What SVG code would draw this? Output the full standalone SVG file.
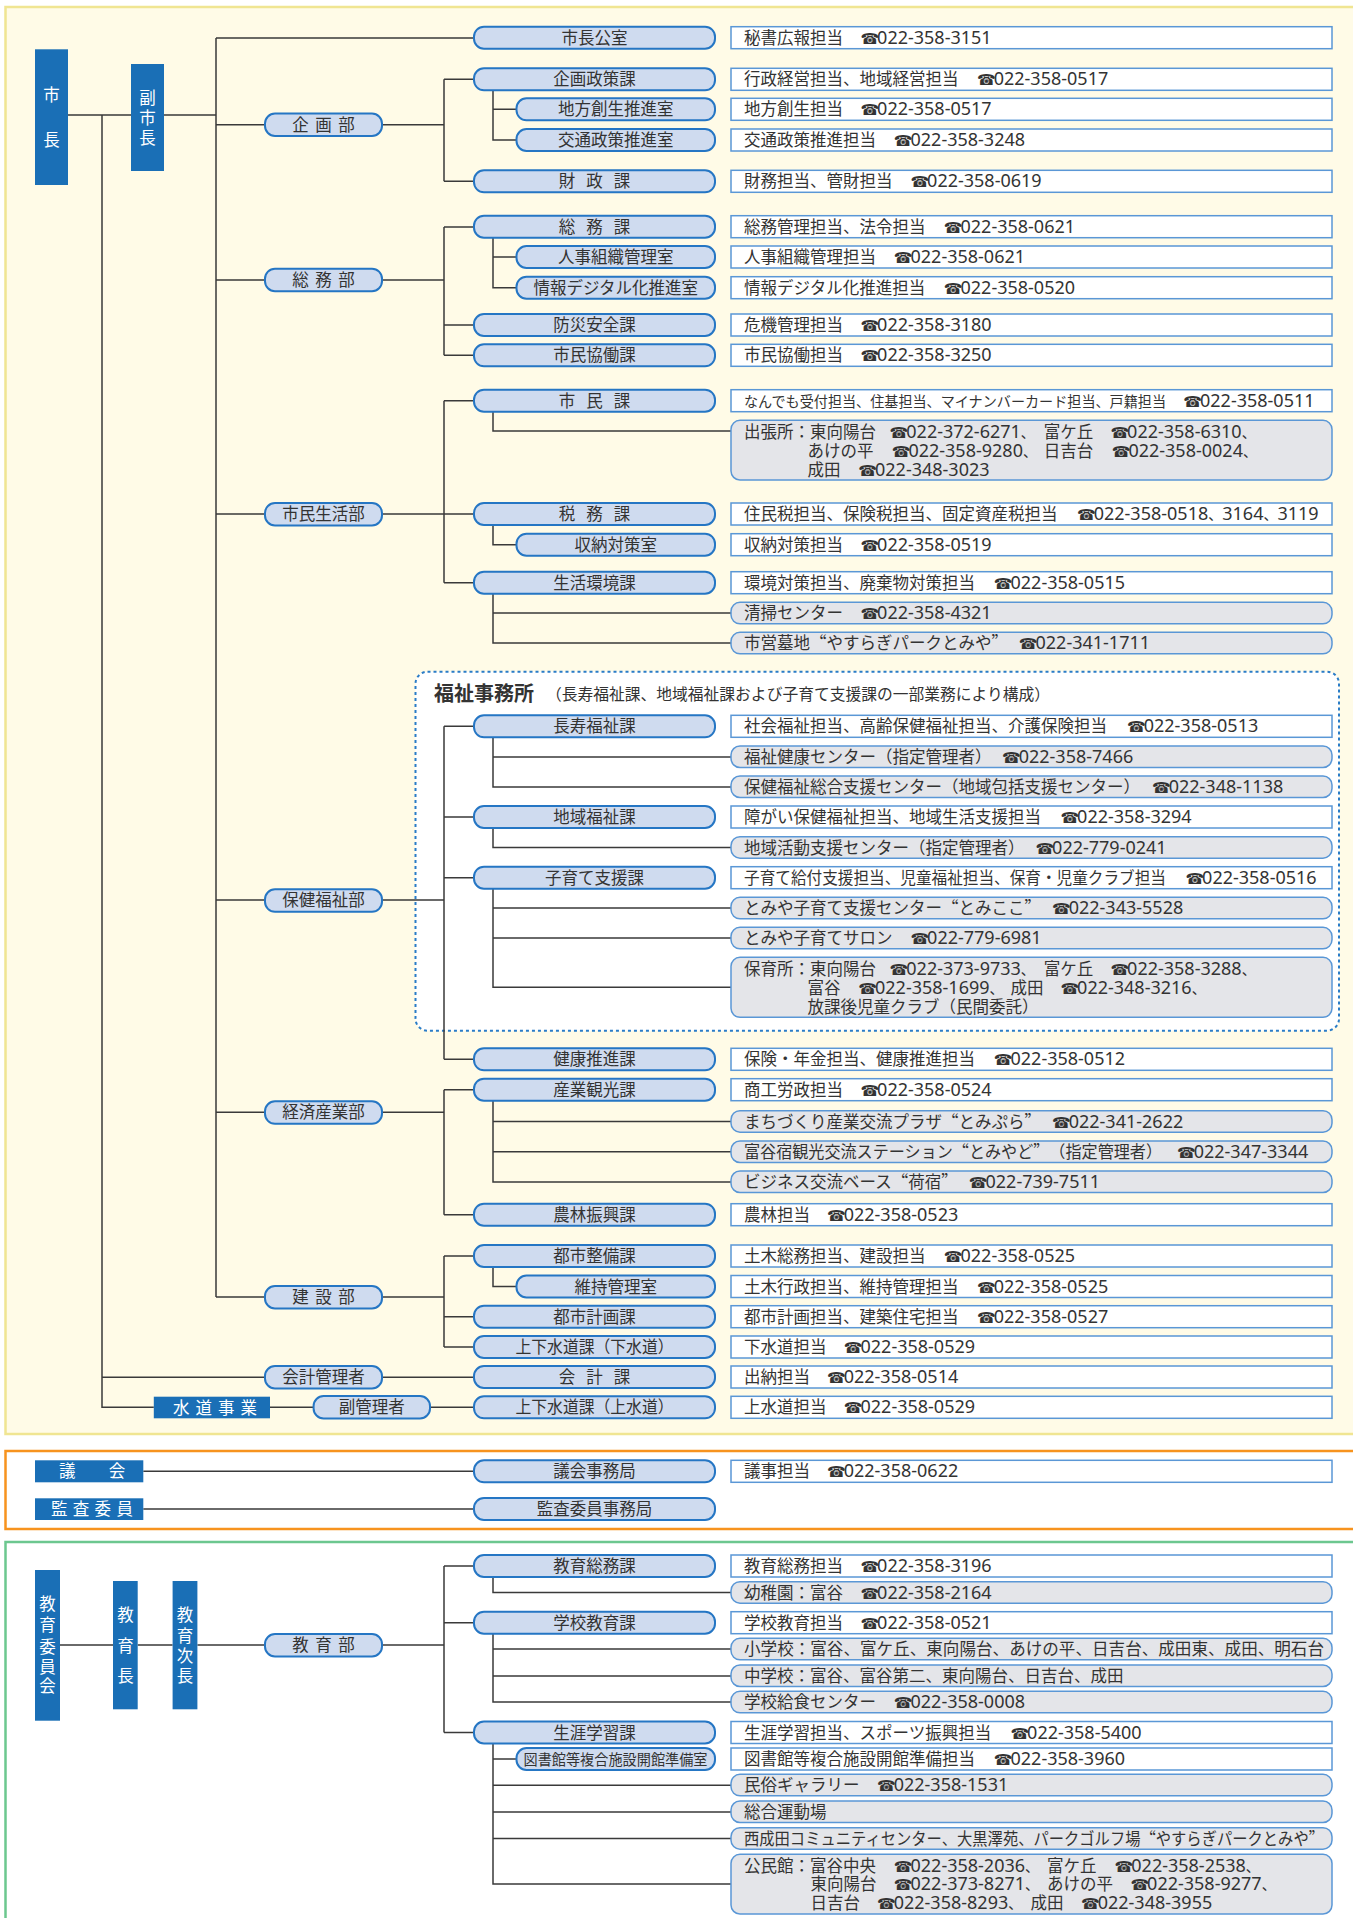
<svg xmlns="http://www.w3.org/2000/svg" width="1353" height="1918" viewBox="0 0 1353 1918">
<style>
.ln{stroke:#3a3a3a;stroke-width:1.5;fill:none}
.pill{fill:#cfdbef;stroke:#2576c4;stroke-width:2}
.info{fill:#fff;stroke:#5a97d6;stroke-width:1.5}
.gray{fill:#e4e5e9;stroke:#5a97d6;stroke-width:1.5}
.blk{fill:#1a6fb6}
.t{font-family:"Noto Sans CJK JP",sans-serif;font-size:16.5px;fill:#333}
.c{text-anchor:middle}
.w{fill:#fff}
.q{font-feature-settings:"fwid" 1}
.ph{font-family:"Noto Sans","Noto Sans CJK JP",sans-serif;font-size:18px;fill:#333}
.tel{font-family:"DejaVu Sans",sans-serif;font-size:15px}
.cm{font-family:"Noto Sans CJK JP",sans-serif;font-size:14px}
</style>
<g id="panels">
<rect x="5.5" y="7" width="1360" height="1427" fill="#fffbe7" stroke="#f0e592" stroke-width="2.5"/>
<rect x="5.5" y="1451" width="1360" height="78" fill="#fff" stroke="#f7931e" stroke-width="2.5"/>
<rect x="5.5" y="1542" width="1360" height="390" fill="#fff" stroke="#6cc78f" stroke-width="2.5"/>
<rect id="fukushi-box" x="415.5" y="671.7" width="923.5" height="359" rx="12" fill="#fff" stroke="#2a7cc7" stroke-width="2" stroke-dasharray="3 3"/>
<text class="t" x="434" y="701" style="font-size:20px;font-weight:700">福祉事務所</text>
<text class="t" x="546" y="700" style="font-size:15.5px" textLength="504" lengthAdjust="spacingAndGlyphs">（長寿福祉課、地域福祉課および子育て支援課の一部業務により構成）</text>
</g>
<g id="connectors" class="ln">
<path d="M68,115H131M164,115H216M216,38V1297M216,38H474M216,124.7H265M216,280H265M216,514H265M216,900H265M216,1112.3H265M216,1297H265"/>
<path d="M102,115V1407.3H153.8M102,1377.3H265M382,1377.3H474M270,1407.3H313.6M430,1407.3H474"/>
<path d="M382,124.7H444M444,79.3V181.3M444,79.3H474M444,181.3H474M493,90.3V140H516.5M493,109.3H516.5"/>
<path d="M382,280H444M444,227V355.3M444,227H474M444,325H474M444,355.3H474M493,238V287.7H516.5M493,257H516.5"/>
<path d="M382,514H474M444,400.7V582.7M444,400.7H474M444,582.7H474M493,411.7V431H731M493,525V544.7H516.5M493,593.7V643H731M493,613H731"/>
<path d="M382,900H444M444,726.3V1059.3M444,726.3H474M444,817H474M444,877.7H474M444,1059.3H474M493,737.3V787H731M493,757H731M493,828V847.5H731M493,888.7V987.3H731M493,908H731M493,938H731"/>
<path d="M382,1112.3H444M444,1089.7V1214.7M444,1089.7H474M444,1214.7H474M493,1100.7V1182H731M493,1121.5H731M493,1151.7H731"/>
<path d="M382,1297H444M444,1256V1347M444,1256H474M444,1316.7H474M444,1347H474M493,1267V1286.5H516.5"/>
<path d="M143.3,1471.3H474M143.3,1509H474"/>
<path d="M60,1645H113M137.7,1645H172.6M197.4,1645H265M382,1645H444M444,1566V1732.5M444,1566H474M444,1622.7H474M444,1732.5H474M493,1577V1592.5H731M493,1633.7V1702H731M493,1649H731M493,1676H731M493,1743.5V1884H731M493,1759H516.5M493,1785.3H731M493,1812H731M493,1838.5H731"/>
</g>
<g id="n-shicho"><rect class="blk" x="35" y="49.3" width="33" height="135.7"/><text class="t c w" x="51.5"><tspan x="51.5" y="101">市</tspan><tspan x="51.5" y="146">長</tspan></text></g>
<g id="n-fukushicho"><rect class="blk" x="131" y="64" width="33" height="107"/><text class="t c w" x="147.5"><tspan x="147.5" y="103.5">副</tspan><tspan x="147.5" y="124">市</tspan><tspan x="147.5" y="144">長</tspan></text></g>
<g id="n-suido"><rect class="blk" x="153.8" y="1396.7" width="116.2" height="21.6"/><text class="t c w" x="218" y="1413.5" letter-spacing="6">水道事業</text></g>
<g id="n-gikai"><rect class="blk" x="35" y="1460.3" width="108.3" height="22"/><text class="t c w" x="108.8" y="1477.3" letter-spacing="33.2">議会</text></g>
<g id="n-kansa"><rect class="blk" x="35" y="1498.3" width="108.3" height="21.7"/><text class="t c w" x="94.6" y="1515" letter-spacing="5.3">監査委員</text></g>
<g id="n-kyoiku-iinkai"><rect class="blk" x="35" y="1570" width="25" height="150.7"/><text class="t c w"><tspan x="47.5" y="1610">教</tspan><tspan x="47.5" y="1631">育</tspan><tspan x="47.5" y="1652.5">委</tspan><tspan x="47.5" y="1672.5">員</tspan><tspan x="47.5" y="1692">会</tspan></text></g>
<g id="n-kyoikucho"><rect class="blk" x="113" y="1581" width="24.7" height="128.3"/><text class="t c w"><tspan x="125.4" y="1621">教</tspan><tspan x="125.4" y="1651.5">育</tspan><tspan x="125.4" y="1681.5">長</tspan></text></g>
<g id="n-kyoikujicho"><rect class="blk" x="172.6" y="1581" width="24.8" height="128.3"/><text class="t c w"><tspan x="185" y="1621">教</tspan><tspan x="185" y="1641.5">育</tspan><tspan x="185" y="1662">次</tspan><tspan x="185" y="1682">長</tspan></text></g>
<g id="d-kikaku"><rect class="pill" x="265" y="113.5" width="117" height="22.5" rx="10"/><text class="t c" x="326.8" y="130.7" letter-spacing="6.5">企画部</text></g>
<g id="d-somu"><rect class="pill" x="265" y="268.7" width="117" height="22.5" rx="10"/><text class="t c" x="326.8" y="286" letter-spacing="6.5">総務部</text></g>
<g id="d-shimin"><rect class="pill" x="265" y="503" width="117" height="22.5" rx="10"/><text class="t c" x="323.5" y="520">市民生活部</text></g>
<g id="d-hoken"><rect class="pill" x="265" y="889.3" width="117" height="22.5" rx="10"/><text class="t c" x="323.5" y="906.3">保健福祉部</text></g>
<g id="d-keizai"><rect class="pill" x="265" y="1101.3" width="117" height="22.5" rx="10"/><text class="t c" x="323.5" y="1118.3">経済産業部</text></g>
<g id="d-kensetsu"><rect class="pill" x="265" y="1286" width="117" height="22.5" rx="10"/><text class="t c" x="326.8" y="1303" letter-spacing="6.5">建設部</text></g>
<g id="d-kaikei"><rect class="pill" x="265" y="1366" width="117" height="22.5" rx="10"/><text class="t c" x="323.5" y="1383">会計管理者</text></g>
<g id="d-fukukanri"><rect class="pill" x="313.6" y="1396" width="116.4" height="22.5" rx="10"/><text class="t c" x="371.8" y="1413">副管理者</text></g>
<g id="d-kyoiku"><rect class="pill" x="265" y="1634" width="117" height="22.5" rx="10"/><text class="t c" x="326.8" y="1651.3" letter-spacing="6.5">教育部</text></g>
<g id="s1"><rect class="pill" x="474" y="26.7" width="241" height="22" rx="10"/><text class="t c" x="594.5" y="43.7">市長公室</text></g>
<g id="s2"><rect class="pill" x="474" y="68.3" width="241" height="22" rx="10"/><text class="t c" x="594.5" y="85.3">企画政策課</text></g>
<g id="s3"><rect class="pill" x="516.5" y="98.3" width="198.5" height="22" rx="10"/><text class="t c" x="615.8" y="115.3">地方創生推進室</text></g>
<g id="s4"><rect class="pill" x="516.5" y="129" width="198.5" height="22" rx="10"/><text class="t c" x="615.8" y="146">交通政策推進室</text></g>
<g id="s5"><rect class="pill" x="474" y="170.3" width="241" height="22" rx="10"/><text class="t c" x="600" y="187.3" letter-spacing="11">財政課</text></g>
<g id="s6"><rect class="pill" x="474" y="215.7" width="241" height="22" rx="10"/><text class="t c" x="600" y="232.7" letter-spacing="11">総務課</text></g>
<g id="s7"><rect class="pill" x="516.5" y="246" width="198.5" height="22" rx="10"/><text class="t c" x="615.8" y="263">人事組織管理室</text></g>
<g id="s8"><rect class="pill" x="516.5" y="276.7" width="198.5" height="22" rx="10"/><text class="t c" x="615.8" y="293.7">情報デジタル化推進室</text></g>
<g id="s9"><rect class="pill" x="474" y="314" width="241" height="22" rx="10"/><text class="t c" x="594.5" y="331">防災安全課</text></g>
<g id="s10"><rect class="pill" x="474" y="344.3" width="241" height="22" rx="10"/><text class="t c" x="594.5" y="361.3">市民協働課</text></g>
<g id="s11"><rect class="pill" x="474" y="389.7" width="241" height="22" rx="10"/><text class="t c" x="600" y="406.7" letter-spacing="11">市民課</text></g>
<g id="s12"><rect class="pill" x="474" y="503" width="241" height="22" rx="10"/><text class="t c" x="600" y="520" letter-spacing="11">税務課</text></g>
<g id="s13"><rect class="pill" x="516.5" y="533.7" width="198.5" height="22" rx="10"/><text class="t c" x="615.8" y="550.7">収納対策室</text></g>
<g id="s14"><rect class="pill" x="474" y="571.7" width="241" height="22" rx="10"/><text class="t c" x="594.5" y="588.7">生活環境課</text></g>
<g id="s15"><rect class="pill" x="474" y="715.3" width="241" height="22" rx="10"/><text class="t c" x="594.5" y="732.3">長寿福祉課</text></g>
<g id="s16"><rect class="pill" x="474" y="806" width="241" height="22" rx="10"/><text class="t c" x="594.5" y="823">地域福祉課</text></g>
<g id="s17"><rect class="pill" x="474" y="866.7" width="241" height="22" rx="10"/><text class="t c" x="594.5" y="883.7">子育て支援課</text></g>
<g id="s18"><rect class="pill" x="474" y="1048.3" width="241" height="22" rx="10"/><text class="t c" x="594.5" y="1065.3">健康推進課</text></g>
<g id="s19"><rect class="pill" x="474" y="1078.7" width="241" height="22" rx="10"/><text class="t c" x="594.5" y="1095.7">産業観光課</text></g>
<g id="s20"><rect class="pill" x="474" y="1203.7" width="241" height="22" rx="10"/><text class="t c" x="594.5" y="1220.7">農林振興課</text></g>
<g id="s21"><rect class="pill" x="474" y="1245" width="241" height="22" rx="10"/><text class="t c" x="594.5" y="1262">都市整備課</text></g>
<g id="s22"><rect class="pill" x="516.5" y="1275.5" width="198.5" height="22" rx="10"/><text class="t c" x="615.8" y="1292.5">維持管理室</text></g>
<g id="s23"><rect class="pill" x="474" y="1305.7" width="241" height="22" rx="10"/><text class="t c" x="594.5" y="1322.7">都市計画課</text></g>
<g id="s24"><rect class="pill" x="474" y="1336" width="241" height="22" rx="10"/><text class="t c" x="594.5" y="1353" textLength="158" lengthAdjust="spacingAndGlyphs">上下水道課（下水道）</text></g>
<g id="s25"><rect class="pill" x="474" y="1366" width="241" height="22" rx="10"/><text class="t c" x="600" y="1383" letter-spacing="11">会計課</text></g>
<g id="s26"><rect class="pill" x="474" y="1396.3" width="241" height="22" rx="10"/><text class="t c" x="594.5" y="1413.3" textLength="158" lengthAdjust="spacingAndGlyphs">上下水道課（上水道）</text></g>
<g id="s27"><rect class="pill" x="474" y="1460.3" width="241" height="22" rx="10"/><text class="t c" x="594.5" y="1477.3">議会事務局</text></g>
<g id="s28"><rect class="pill" x="474" y="1498" width="241" height="22" rx="10"/><text class="t c" x="594.5" y="1515">監査委員事務局</text></g>
<g id="s29"><rect class="pill" x="474" y="1555" width="241" height="22" rx="10"/><text class="t c" x="594.5" y="1572">教育総務課</text></g>
<g id="s30"><rect class="pill" x="474" y="1611.7" width="241" height="22" rx="10"/><text class="t c" x="594.5" y="1628.7">学校教育課</text></g>
<g id="s31"><rect class="pill" x="474" y="1721.5" width="241" height="22" rx="10"/><text class="t c" x="594.5" y="1738.5">生涯学習課</text></g>
<g id="s32"><rect class="pill" x="516.5" y="1748" width="198.5" height="22" rx="10"/><text class="t c" x="615.5" y="1765" style="font-size:14.5px" textLength="184" lengthAdjust="spacingAndGlyphs">図書館等複合施設開館準備室</text></g>
<g id="i1"><rect class="info" x="731" y="26.7" width="601" height="22"/><text class="t" x="744" y="43.7">秘書広報担当</text><text class="ph" y="43.7"><tspan class="tel" x="860.4">☎</tspan><tspan x="877.1">022-358-3151</tspan></text></g>
<g id="i2"><rect class="info" x="731" y="68.3" width="601" height="22"/><text class="t" x="744" y="85.3">行政経営担当、地域経営担当</text><text class="ph" y="85.3"><tspan class="tel" x="977">☎</tspan><tspan x="993.7">022-358-0517</tspan></text></g>
<g id="i3"><rect class="info" x="731" y="98.3" width="601" height="22"/><text class="t" x="744" y="115.3">地方創生担当</text><text class="ph" y="115.3"><tspan class="tel" x="860.4">☎</tspan><tspan x="877.1">022-358-0517</tspan></text></g>
<g id="i4"><rect class="info" x="731" y="129" width="601" height="22"/><text class="t" x="744" y="146">交通政策推進担当</text><text class="ph" y="146"><tspan class="tel" x="893.8">☎</tspan><tspan x="910.5">022-358-3248</tspan></text></g>
<g id="i5"><rect class="info" x="731" y="170.3" width="601" height="22"/><text class="t" x="744" y="187.3">財務担当、管財担当</text><text class="ph" y="187.3"><tspan class="tel" x="910.4">☎</tspan><tspan x="927.1">022-358-0619</tspan></text></g>
<g id="i6"><rect class="info" x="731" y="215.7" width="601" height="22"/><text class="t" x="744" y="232.7">総務管理担当、法令担当</text><text class="ph" y="232.7"><tspan class="tel" x="943.8">☎</tspan><tspan x="960.5">022-358-0621</tspan></text></g>
<g id="i7"><rect class="info" x="731" y="246" width="601" height="22"/><text class="t" x="744" y="263">人事組織管理担当</text><text class="ph" y="263"><tspan class="tel" x="893.8">☎</tspan><tspan x="910.5">022-358-0621</tspan></text></g>
<g id="i8"><rect class="info" x="731" y="276.7" width="601" height="22"/><text class="t" x="744" y="293.7">情報デジタル化推進担当</text><text class="ph" y="293.7"><tspan class="tel" x="943.8">☎</tspan><tspan x="960.5">022-358-0520</tspan></text></g>
<g id="i9"><rect class="info" x="731" y="314" width="601" height="22"/><text class="t" x="744" y="331">危機管理担当</text><text class="ph" y="331"><tspan class="tel" x="860.4">☎</tspan><tspan x="877.1">022-358-3180</tspan></text></g>
<g id="i10"><rect class="info" x="731" y="344.3" width="601" height="22"/><text class="t" x="744" y="361.3">市民協働担当</text><text class="ph" y="361.3"><tspan class="tel" x="860.4">☎</tspan><tspan x="877.1">022-358-3250</tspan></text></g>
<g id="i11"><rect class="info" x="731" y="389.7" width="601" height="22"/><text class="t" x="744" y="406.7" style="font-size:14.5px" textLength="422" lengthAdjust="spacingAndGlyphs">なんでも受付担当、住基担当、マイナンバーカード担当、戸籍担当</text><text class="ph" y="406.7"><tspan class="tel" x="1183.3">☎</tspan><tspan x="1200">022-358-0511</tspan></text></g>
<g id="g12"><rect class="gray" x="731" y="420.3" width="601" height="59.7" rx="9"/>
<text class="t" x="744" y="437.7">出張所：東向陽台</text><text class="ph" y="437.7"><tspan class="tel" x="889.6">☎</tspan><tspan x="906.3">022-372-6271</tspan><tspan class="cm">、</tspan></text><text class="t" x="1043.8" y="437.7">富ケ丘</text><text class="ph" y="437.7"><tspan class="tel" x="1110.4">☎</tspan><tspan x="1127.1">022-358-6310</tspan><tspan class="cm">、</tspan></text>
<text class="t" x="807.5" y="456.7">あけの平</text><text class="ph" y="456.7"><tspan class="tel" x="891.7">☎</tspan><tspan x="908.4">022-358-9280</tspan><tspan class="cm">、</tspan></text><text class="t" x="1043.8" y="456.7">日吉台</text><text class="ph" y="456.7"><tspan class="tel" x="1111.7">☎</tspan><tspan x="1128.4">022-358-0024</tspan><tspan class="cm">、</tspan></text>
<text class="t" x="807.5" y="475.7">成田</text><text class="ph" y="475.7"><tspan class="tel" x="858.3">☎</tspan><tspan x="875">022-348-3023</tspan></text></g>
<g id="i13"><rect class="info" x="731" y="503" width="601" height="22"/><text class="t" x="744" y="520">住民税担当、保険税担当、固定資産税担当</text><text class="ph" y="520"><tspan class="tel" x="1077">☎</tspan><tspan x="1093.7">022-358-0518</tspan><tspan class="cm">、</tspan><tspan>3164</tspan><tspan class="cm">、</tspan><tspan>3119</tspan></text></g>
<g id="i14"><rect class="info" x="731" y="533.7" width="601" height="22"/><text class="t" x="744" y="550.7">収納対策担当</text><text class="ph" y="550.7"><tspan class="tel" x="860.4">☎</tspan><tspan x="877.1">022-358-0519</tspan></text></g>
<g id="i15"><rect class="info" x="731" y="571.7" width="601" height="22"/><text class="t" x="744" y="588.7">環境対策担当、廃棄物対策担当</text><text class="ph" y="588.7"><tspan class="tel" x="993.8">☎</tspan><tspan x="1010.5">022-358-0515</tspan></text></g>
<g id="g16"><rect class="gray" x="731" y="602.3" width="601" height="21.5" rx="9"/><text class="t" x="744" y="619">清掃センター</text><text class="ph" y="619"><tspan class="tel" x="860.4">☎</tspan><tspan x="877.1">022-358-4321</tspan></text></g>
<g id="g17"><rect class="gray" x="731" y="632.3" width="601" height="21.5" rx="9"/><text class="t q" x="744" y="649">市営墓地“やすらぎパークとみや”</text><text class="ph" y="649"><tspan class="tel" x="1018.8">☎</tspan><tspan x="1035.5">022-341-1711</tspan></text></g>
<g id="i18"><rect class="info" x="731" y="715.3" width="601" height="22"/><text class="t" x="744" y="732.3">社会福祉担当、高齢保健福祉担当、介護保険担当</text><text class="ph" y="732.3"><tspan class="tel" x="1127">☎</tspan><tspan x="1143.7">022-358-0513</tspan></text></g>
<g id="g19"><rect class="gray" x="731" y="746" width="601" height="21.5" rx="9"/><text class="t" x="744" y="763">福祉健康センター（指定管理者）</text><text class="ph" y="763"><tspan class="tel" x="1002">☎</tspan><tspan x="1018.7">022-358-7466</tspan></text></g>
<g id="g20"><rect class="gray" x="731" y="776" width="601" height="21.5" rx="9"/><text class="t" x="744" y="793">保健福祉総合支援センター（地域包括支援センター）</text><text class="ph" y="793"><tspan class="tel" x="1152">☎</tspan><tspan x="1168.7">022-348-1138</tspan></text></g>
<g id="i21"><rect class="info" x="731" y="806" width="601" height="22"/><text class="t" x="744" y="823">障がい保健福祉担当、地域生活支援担当</text><text class="ph" y="823"><tspan class="tel" x="1060.4">☎</tspan><tspan x="1077.1">022-358-3294</tspan></text></g>
<g id="g22"><rect class="gray" x="731" y="836.7" width="601" height="21.5" rx="9"/><text class="t" x="744" y="853.5">地域活動支援センター（指定管理者）</text><text class="ph" y="853.5"><tspan class="tel" x="1035.4">☎</tspan><tspan x="1052.1">022-779-0241</tspan></text></g>
<g id="i23"><rect class="info" x="731" y="866.7" width="601" height="22"/><text class="t" x="744" y="883.7" textLength="422" lengthAdjust="spacingAndGlyphs">子育て給付支援担当、児童福祉担当、保育・児童クラブ担当</text><text class="ph" y="883.7"><tspan class="tel" x="1185.4">☎</tspan><tspan x="1202.1">022-358-0516</tspan></text></g>
<g id="g24"><rect class="gray" x="731" y="897.3" width="601" height="21.5" rx="9"/><text class="t q" x="744" y="914">とみや子育て支援センター“とみここ”</text><text class="ph" y="914"><tspan class="tel" x="1052">☎</tspan><tspan x="1068.7">022-343-5528</tspan></text></g>
<g id="g25"><rect class="gray" x="731" y="927.3" width="601" height="21.5" rx="9"/><text class="t" x="744" y="944">とみや子育てサロン</text><text class="ph" y="944"><tspan class="tel" x="910.4">☎</tspan><tspan x="927.1">022-779-6981</tspan></text></g>
<g id="g26"><rect class="gray" x="731" y="957.3" width="601" height="60" rx="9"/>
<text class="t" x="744" y="975">保育所：東向陽台</text><text class="ph" y="975"><tspan class="tel" x="889.6">☎</tspan><tspan x="906.3">022-373-9733</tspan><tspan class="cm">、</tspan></text><text class="t" x="1043.8" y="975">富ケ丘</text><text class="ph" y="975"><tspan class="tel" x="1110.4">☎</tspan><tspan x="1127.1">022-358-3288</tspan><tspan class="cm">、</tspan></text>
<text class="t" x="807.5" y="994">富谷</text><text class="ph" y="994"><tspan class="tel" x="858.3">☎</tspan><tspan x="875">022-358-1699</tspan><tspan class="cm">、</tspan></text><text class="t" x="1010.4" y="994">成田</text><text class="ph" y="994"><tspan class="tel" x="1060.4">☎</tspan><tspan x="1077.1">022-348-3216</tspan><tspan class="cm">、</tspan></text>
<text class="t" x="807.5" y="1013">放課後児童クラブ（民間委託）</text></g>
<g id="i27"><rect class="info" x="731" y="1048.3" width="601" height="22"/><text class="t" x="744" y="1065.3">保険・年金担当、健康推進担当</text><text class="ph" y="1065.3"><tspan class="tel" x="993.8">☎</tspan><tspan x="1010.5">022-358-0512</tspan></text></g>
<g id="i28"><rect class="info" x="731" y="1078.7" width="601" height="22"/><text class="t" x="744" y="1095.7">商工労政担当</text><text class="ph" y="1095.7"><tspan class="tel" x="860.4">☎</tspan><tspan x="877.1">022-358-0524</tspan></text></g>
<g id="g29"><rect class="gray" x="731" y="1110.7" width="601" height="21.5" rx="9"/><text class="t q" x="744" y="1127.5">まちづくり産業交流プラザ“とみぷら”</text><text class="ph" y="1127.5"><tspan class="tel" x="1052">☎</tspan><tspan x="1068.7">022-341-2622</tspan></text></g>
<g id="g30"><rect class="gray" x="731" y="1141" width="601" height="21.5" rx="9"/><text class="t q" x="744" y="1157.7" textLength="418" lengthAdjust="spacingAndGlyphs">富谷宿観光交流ステーション“とみやど”（指定管理者）</text><text class="ph" y="1157.7"><tspan class="tel" x="1177">☎</tspan><tspan x="1193.7">022-347-3344</tspan></text></g>
<g id="g31"><rect class="gray" x="731" y="1171" width="601" height="21.5" rx="9"/><text class="t q" x="744" y="1188">ビジネス交流ベース“荷宿”</text><text class="ph" y="1188"><tspan class="tel" x="968.8">☎</tspan><tspan x="985.5">022-739-7511</tspan></text></g>
<g id="i32"><rect class="info" x="731" y="1203.7" width="601" height="22"/><text class="t" x="744" y="1220.7">農林担当</text><text class="ph" y="1220.7"><tspan class="tel" x="827">☎</tspan><tspan x="843.7">022-358-0523</tspan></text></g>
<g id="i33"><rect class="info" x="731" y="1245" width="601" height="22"/><text class="t" x="744" y="1262">土木総務担当、建設担当</text><text class="ph" y="1262"><tspan class="tel" x="943.8">☎</tspan><tspan x="960.5">022-358-0525</tspan></text></g>
<g id="i34"><rect class="info" x="731" y="1275.5" width="601" height="22"/><text class="t" x="744" y="1292.5">土木行政担当、維持管理担当</text><text class="ph" y="1292.5"><tspan class="tel" x="977">☎</tspan><tspan x="993.7">022-358-0525</tspan></text></g>
<g id="i35"><rect class="info" x="731" y="1305.7" width="601" height="22"/><text class="t" x="744" y="1322.7">都市計画担当、建築住宅担当</text><text class="ph" y="1322.7"><tspan class="tel" x="977">☎</tspan><tspan x="993.7">022-358-0527</tspan></text></g>
<g id="i36"><rect class="info" x="731" y="1336" width="601" height="22"/><text class="t" x="744" y="1353">下水道担当</text><text class="ph" y="1353"><tspan class="tel" x="843.8">☎</tspan><tspan x="860.5">022-358-0529</tspan></text></g>
<g id="i37"><rect class="info" x="731" y="1366" width="601" height="22"/><text class="t" x="744" y="1383">出納担当</text><text class="ph" y="1383"><tspan class="tel" x="827">☎</tspan><tspan x="843.7">022-358-0514</tspan></text></g>
<g id="i38"><rect class="info" x="731" y="1396.3" width="601" height="22"/><text class="t" x="744" y="1413.3">上水道担当</text><text class="ph" y="1413.3"><tspan class="tel" x="843.8">☎</tspan><tspan x="860.5">022-358-0529</tspan></text></g>
<g id="i39"><rect class="info" x="731" y="1460.3" width="601" height="22"/><text class="t" x="744" y="1477.3">議事担当</text><text class="ph" y="1477.3"><tspan class="tel" x="827">☎</tspan><tspan x="843.7">022-358-0622</tspan></text></g>
<g id="i41"><rect class="info" x="731" y="1555" width="601" height="22"/><text class="t" x="744" y="1572">教育総務担当</text><text class="ph" y="1572"><tspan class="tel" x="860.4">☎</tspan><tspan x="877.1">022-358-3196</tspan></text></g>
<g id="g42"><rect class="gray" x="731" y="1581.7" width="601" height="21.5" rx="9"/><text class="t" x="744" y="1598.5">幼稚園：富谷</text><text class="ph" y="1598.5"><tspan class="tel" x="860.4">☎</tspan><tspan x="877.1">022-358-2164</tspan></text></g>
<g id="i43"><rect class="info" x="731" y="1611.7" width="601" height="22"/><text class="t" x="744" y="1628.7">学校教育担当</text><text class="ph" y="1628.7"><tspan class="tel" x="860.4">☎</tspan><tspan x="877.1">022-358-0521</tspan></text></g>
<g id="g44"><rect class="gray" x="731" y="1638.3" width="601" height="21.5" rx="9"/><text class="t" x="744" y="1655" textLength="580" lengthAdjust="spacingAndGlyphs">小学校：富谷、富ケ丘、東向陽台、あけの平、日吉台、成田東、成田、明石台</text></g>
<g id="g45"><rect class="gray" x="731" y="1665" width="601" height="21.5" rx="9"/><text class="t" x="744" y="1682">中学校：富谷、富谷第二、東向陽台、日吉台、成田</text></g>
<g id="g46"><rect class="gray" x="731" y="1691.3" width="601" height="21.5" rx="9"/><text class="t" x="744" y="1708">学校給食センター</text><text class="ph" y="1708"><tspan class="tel" x="893.8">☎</tspan><tspan x="910.5">022-358-0008</tspan></text></g>
<g id="i47"><rect class="info" x="731" y="1721.5" width="601" height="22"/><text class="t" x="744" y="1738.5">生涯学習担当、スポーツ振興担当</text><text class="ph" y="1738.5"><tspan class="tel" x="1010.4">☎</tspan><tspan x="1027.1">022-358-5400</tspan></text></g>
<g id="i48"><rect class="info" x="731" y="1748" width="601" height="22"/><text class="t" x="744" y="1765">図書館等複合施設開館準備担当</text><text class="ph" y="1765"><tspan class="tel" x="993.8">☎</tspan><tspan x="1010.5">022-358-3960</tspan></text></g>
<g id="g49"><rect class="gray" x="731" y="1774.3" width="601" height="21.5" rx="9"/><text class="t" x="744" y="1791">民俗ギャラリー</text><text class="ph" y="1791"><tspan class="tel" x="877">☎</tspan><tspan x="893.7">022-358-1531</tspan></text></g>
<g id="g50"><rect class="gray" x="731" y="1801" width="601" height="21.5" rx="9"/><text class="t" x="744" y="1818">総合運動場</text></g>
<g id="g51"><rect class="gray" x="731" y="1827.7" width="601" height="21.5" rx="9"/><text class="t q" x="744" y="1844.5" textLength="580" lengthAdjust="spacingAndGlyphs">西成田コミュニティセンター、大黒澤苑、パークゴルフ場“やすらぎパークとみや”</text></g>
<g id="g52"><rect class="gray" x="731" y="1854.3" width="601" height="59.7" rx="9"/>
<text class="t" x="744" y="1871.7">公民館：富谷中央</text><text class="ph" y="1871.7"><tspan class="tel" x="893.8">☎</tspan><tspan x="910.5">022-358-2036</tspan><tspan class="cm">、</tspan></text><text class="t" x="1047" y="1871.7">富ケ丘</text><text class="ph" y="1871.7"><tspan class="tel" x="1114.6">☎</tspan><tspan x="1131.3">022-358-2538</tspan><tspan class="cm">、</tspan></text>
<text class="t" x="810.4" y="1890.3">東向陽台</text><text class="ph" y="1890.3"><tspan class="tel" x="893.8">☎</tspan><tspan x="910.5">022-373-8271</tspan><tspan class="cm">、</tspan></text><text class="t" x="1047" y="1890.3">あけの平</text><text class="ph" y="1890.3"><tspan class="tel" x="1130.4">☎</tspan><tspan x="1147.1">022-358-9277</tspan><tspan class="cm">、</tspan></text>
<text class="t" x="810.4" y="1909.3">日吉台</text><text class="ph" y="1909.3"><tspan class="tel" x="877">☎</tspan><tspan x="893.7">022-358-8293</tspan><tspan class="cm">、</tspan></text><text class="t" x="1030.4" y="1909.3">成田</text><text class="ph" y="1909.3"><tspan class="tel" x="1081">☎</tspan><tspan x="1097.7">022-348-3955</tspan></text></g>
</svg>
